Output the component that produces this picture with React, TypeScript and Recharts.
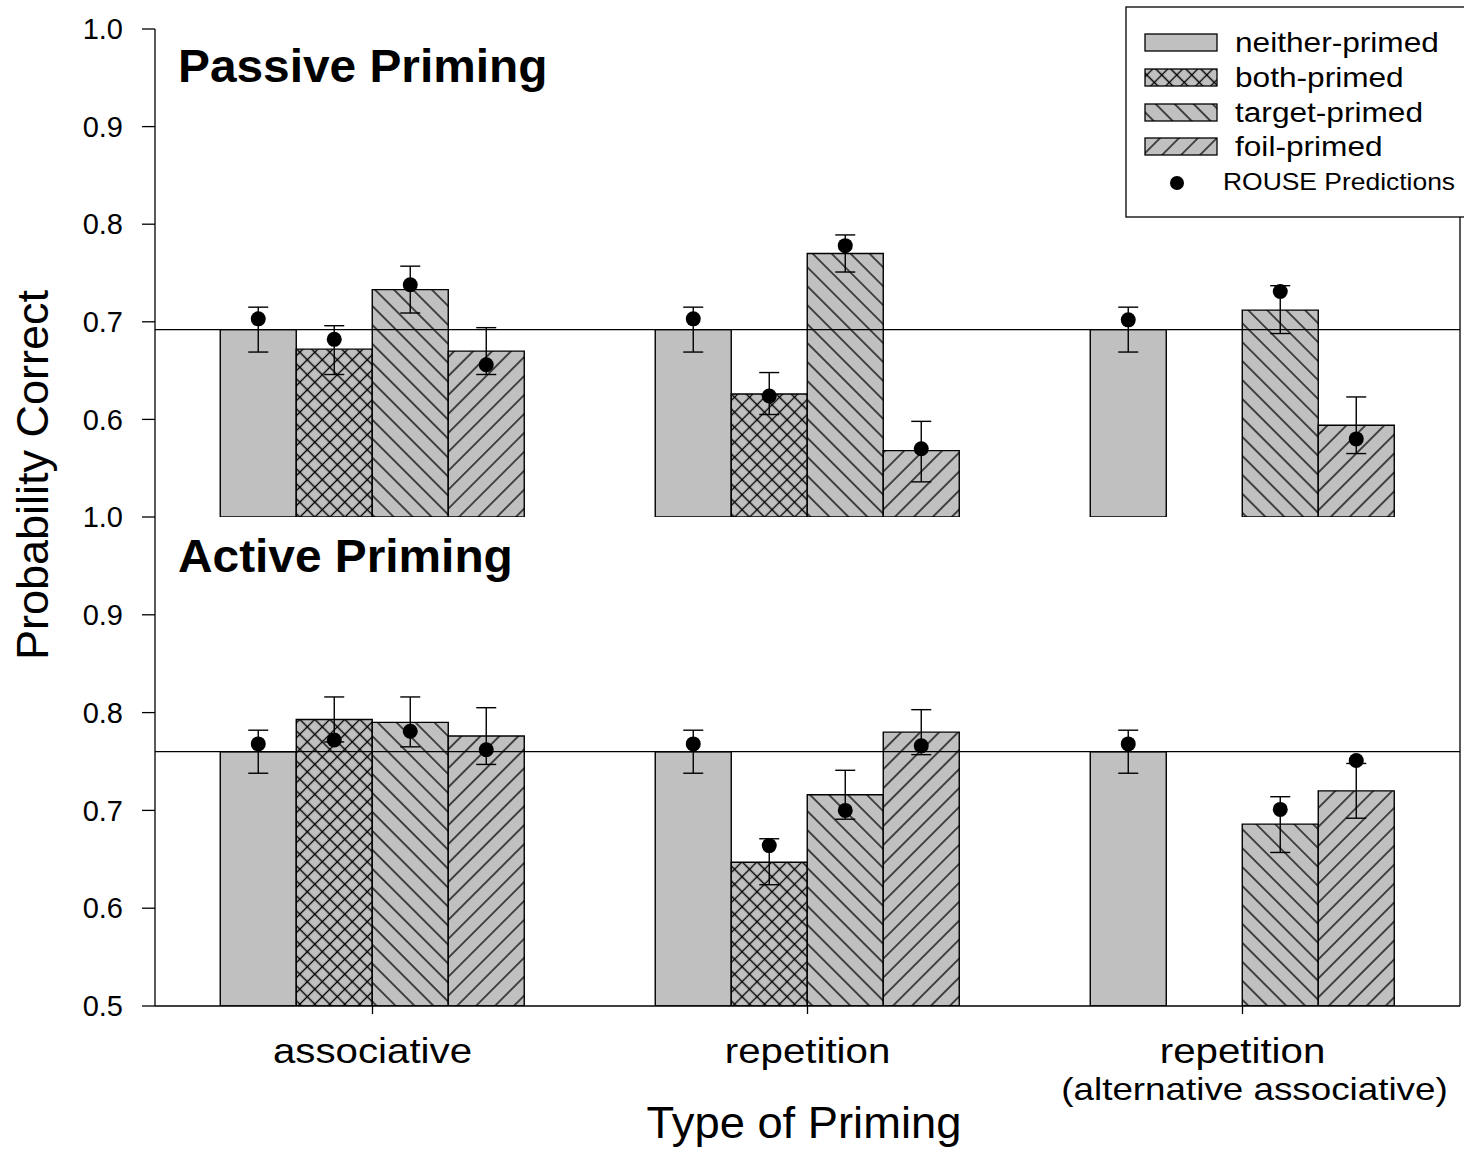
import React from "react";
import { BarChart, Bar, XAxis, YAxis, ErrorBar, ReferenceLine } from "recharts";

const FONT = '"Liberation Sans", Arial, Helvetica, sans-serif';
const GRAY = "#c0c0c0";

const categories = ["associative", "repetition", "repetition (alternative associative)"];
const tickLines = [["associative"], ["repetition"], ["repetition", "(alternative associative)"]];

const series = ["neither", "both", "target", "foil"];
const seriesNames = ["neither-primed", "both-primed", "target-primed", "foil-primed"];
const seriesFills = [GRAY, "url(#hatchCross)", "url(#hatchBack)", "url(#hatchFwd)"];

// Passive priming (top panel)
const passiveNeither = [0.692, 0.692, 0.692];
const passiveBoth = [0.672, 0.626, null];
const passiveTarget = [0.733, 0.77, 0.712];
const passiveFoil = [0.67, 0.568, 0.594];

const passiveHigh = [
  [0.715, 0.715, 0.715],
  [0.696, 0.648, null],
  [0.757, 0.789, 0.737],
  [0.694, 0.598, 0.623],
];
const passiveLow = [
  [0.669, 0.669, 0.669],
  [0.646, 0.605, null],
  [0.709, 0.751, 0.688],
  [0.646, 0.536, 0.565],
];
const passiveRouse = [
  [0.703, 0.703, 0.702],
  [0.682, 0.624, null],
  [0.738, 0.778, 0.731],
  [0.656, 0.57, 0.58],
];
const passiveBaseline = 0.692;

// Active priming (bottom panel)
const activeNeither = [0.76, 0.76, 0.76];
const activeBoth = [0.793, 0.647, null];
const activeTarget = [0.79, 0.716, 0.686];
const activeFoil = [0.776, 0.78, 0.72];

const activeHigh = [
  [0.782, 0.782, 0.782],
  [0.816, 0.671, null],
  [0.816, 0.741, 0.714],
  [0.805, 0.803, 0.748],
];
const activeLow = [
  [0.738, 0.738, 0.738],
  [0.77, 0.624, null],
  [0.765, 0.691, 0.657],
  [0.747, 0.757, 0.692],
];
const activeRouse = [
  [0.768, 0.768, 0.768],
  [0.772, 0.664, null],
  [0.781, 0.7, 0.701],
  [0.762, 0.766, 0.751],
];
const activeBaseline = 0.76;

const topTicks = [0.6, 0.7, 0.8, 0.9, 1.0];
const bottomTicks = [0.5, 0.6, 0.7, 0.8, 0.9, 1.0];

function buildRows(vals: (number | null)[][], his: (number | null)[][], los: (number | null)[][], rouse: (number | null)[][]) {
  return categories.map((c, i) => {
    const row: any = { cat: c };
    series.forEach((s, k) => {
      const v = vals[k][i];
      const hi = his[k][i];
      const lo = los[k][i];
      row[s] = v;
      row[s + "Err"] = v == null || hi == null || lo == null ? null : [v - lo, hi - v];
      row["r_" + s] = rouse[k][i];
    });
    return row;
  });
}

const passiveRows = buildRows([passiveNeither, passiveBoth, passiveTarget, passiveFoil], passiveHigh, passiveLow, passiveRouse);
const activeRows = buildRows([activeNeither, activeBoth, activeTarget, activeFoil], activeHigh, activeLow, activeRouse);

function SText({ x, y, size, sx = 1, anchor = "start", weight = "normal", children }: any) {
  return (
    <text
      transform={`translate(${x} ${y}) scale(${sx} 1)`}
      fontSize={size}
      fontFamily={FONT}
      fontWeight={weight}
      textAnchor={anchor}
      fill="#000"
    >
      {children}
    </text>
  );
}

const CatTick = (props: any) => {
  const { x, y, payload } = props;
  const idx = categories.indexOf(payload.value);
  const lines = tickLines[idx] ?? [payload.value];
  return (
    <g>
      {lines.map((l, i) =>
        i === 0 ? (
          <SText key={i} x={x} y={y + 49} size={35} sx={1.15} anchor="middle">{l}</SText>
        ) : (
          <SText key={i} x={x + 12} y={y + 86} size={32} sx={1.15} anchor="middle">{l}</SText>
        )
      )}
    </g>
  );
};

const makeDot = (key: string) => (props: any) => {
  if (props.payload == null || props.payload[key] == null) return <g />;
  return <circle cx={props.x + props.width / 2} cy={props.y} r={7.5} fill="#000" />;
};

function Panel({ rows, baseline, ticks, bottom }: any) {
  const height = bottom ? 664 : 520;
  const margin = bottom ? { top: 30, right: 3, bottom: 0, left: 0 } : { top: 29, right: 3, bottom: 3, left: 0 };
  return (
    <BarChart width={1464} height={height} data={rows} margin={margin} barCategoryGap="15%" barGap={0}>
      <XAxis
        dataKey="cat"
        height={bottom ? 145 : 0}
        axisLine={{ stroke: "#000", strokeWidth: 1.3 }}
        tickLine={bottom ? { stroke: "#000", strokeWidth: 1.3 } : false}
        tickSize={8}
        tickMargin={0}
        tick={bottom ? <CatTick /> : false}
        interval={0}
      />
      <XAxis
        xAxisId="dots"
        dataKey="cat"
        orientation="top"
        height={0}
        tick={false}
        tickLine={false}
        axisLine={{ stroke: "#000", strokeWidth: 1.3 }}
      />
      <YAxis
        domain={[0.5, 1]}
        ticks={ticks}
        interval={0}
        allowDataOverflow
        width={155}
        tickSize={13}
        tickMargin={19}
        tickFormatter={(v: number) => v.toFixed(1)}
        tick={{ fill: "#000", fontSize: 29, fontFamily: FONT }}
        axisLine={{ stroke: "#000", strokeWidth: 1.3 }}
        tickLine={{ stroke: "#000", strokeWidth: 1.3 }}
      />
      <YAxis
        yAxisId="right"
        orientation="right"
        domain={[0.5, 1]}
        width={1}
        tick={false}
        tickLine={false}
        axisLine={{ stroke: "#000", strokeWidth: 1.3 }}
      />
      {series.map((s, k) => (
        <Bar key={s} dataKey={s} fill={seriesFills[k]} stroke="#000" strokeWidth={1.4} isAnimationActive={false}>
          <ErrorBar dataKey={s + "Err"} width={10} stroke="#000" strokeWidth={1.4} direction="y" />
        </Bar>
      ))}
      <ReferenceLine y={baseline} stroke="#000" strokeWidth={1.3} />
      {series.map((s) => (
        <Bar
          key={"r_" + s}
          xAxisId="dots"
          dataKey={"r_" + s}
          fill="none"
          isAnimationActive={false}
          shape={makeDot("r_" + s)}
        />
      ))}
    </BarChart>
  );
}

function Patterns() {
  return (
    <svg width={0} height={0} style={{ position: "absolute" }}>
      <defs>
        <pattern id="hatchCross" patternUnits="userSpaceOnUse" width={10.6} height={10.6} patternTransform="rotate(45)">
          <rect width={10.6} height={10.6} fill={GRAY} />
          <path d="M5.3,0 V10.6 M0,5.3 H10.6" stroke="#000" strokeWidth={1.3} />
        </pattern>
        <pattern id="hatchBack" patternUnits="userSpaceOnUse" width={13.4} height={13.4} patternTransform="rotate(-45)">
          <rect width={13.4} height={13.4} fill={GRAY} />
          <path d="M6.7,0 V13.4" stroke="#000" strokeWidth={1.3} />
        </pattern>
        <pattern id="hatchFwd" patternUnits="userSpaceOnUse" width={13.4} height={13.4} patternTransform="rotate(45)">
          <rect width={13.4} height={13.4} fill={GRAY} />
          <path d="M6.7,0 V13.4" stroke="#000" strokeWidth={1.3} />
        </pattern>
      </defs>
    </svg>
  );
}

const legendBaselines = [52, 87, 122, 156];

function Overlay() {
  return (
    <svg width={1464} height={1151} style={{ position: "absolute", left: 0, top: 0, pointerEvents: "none" }}>
      <SText x={178} y={82} size={46} sx={1.04} weight="bold">Passive Priming</SText>
      <SText x={178} y={572} size={46} sx={1.04} weight="bold">Active Priming</SText>
      <text transform="translate(48 475) rotate(-90)" fontSize={45} fontFamily={FONT} textAnchor="middle" fill="#000">
        Probability Correct
      </text>
      <SText x={804} y={1138} size={44} sx={1.03} anchor="middle">Type of Priming</SText>
      <rect x={1126} y={7} width={345} height={210} fill="#fff" stroke="#000" strokeWidth={1.3} />
      {seriesNames.map((n, k) => (
        <g key={n}>
          <rect x={1145} y={legendBaselines[k] - 18} width={72} height={17} fill={seriesFills[k]} stroke="#000" strokeWidth={1.3} />
          <SText x={1235} y={legendBaselines[k]} size={27.5} sx={1.15}>{n}</SText>
        </g>
      ))}
      <circle cx={1177} cy={183} r={7} fill="#000" />
      <SText x={1223} y={190} size={23} sx={1.15}>ROUSE Predictions</SText>
    </svg>
  );
}

export default function App() {
  return (
    <div style={{ position: "absolute", left: 0, top: 0, width: 1464, height: 1151, background: "#fff", fontFamily: FONT, overflow: "hidden" }}>
      <Patterns />
      <div style={{ position: "absolute", left: 0, top: 0 }}>
        <Panel rows={passiveRows} baseline={passiveBaseline} ticks={topTicks} bottom={false} />
      </div>
      <div style={{ position: "absolute", left: 0, top: 487 }}>
        <Panel rows={activeRows} baseline={activeBaseline} ticks={bottomTicks} bottom={true} />
      </div>
      <Overlay />
    </div>
  );
}
